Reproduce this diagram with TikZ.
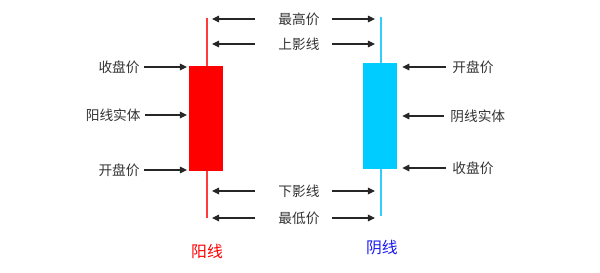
\documentclass[tikz,border=0pt]{standalone}
\usepackage{fontspec}
\newfontfamily\cjk{Noto Sans CJK SC}
\usetikzlibrary{arrows.meta}
\definecolor{yangred}{HTML}{FF0000}
\definecolor{yangwick}{HTML}{FF3B3B}
\definecolor{yinblue}{HTML}{00CCFF}
\definecolor{yinwick}{HTML}{33CCFF}
\definecolor{yintext}{HTML}{1A1AF0}
\definecolor{txtgray}{HTML}{333333}
\tikzset{
  lbl/.style={font=\cjk\fontsize{7.8}{9}\selectfont, text=txtgray, inner sep=0pt},
  title/.style={font=\cjk\fontsize{9}{11}\selectfont, inner sep=0pt},
  pt/.style={-{Triangle[length=4pt,width=3.8pt]}, line width=0.6pt, black!85},
  body/.style={minimum width=0.68cm, minimum height=2.1cm, inner sep=0pt},
}
\begin{document}
\begin{tikzpicture}[x=0.02cm,y=-0.02cm]
  \useasboundingbox (0,0) rectangle (600,273);

  % yang line (red)
  \coordinate (rtop) at (207,18);
  \coordinate (rbot) at (207,218);
  \draw[yangwick, line width=1pt] (rtop) -- (rbot);
  \node[body, fill=yangred] (rbody) at (206,118.5) {};

  % yin line (blue)
  \coordinate (btop) at (381,17);
  \coordinate (bbot) at (381,216);
  \draw[yinwick, line width=1pt] (btop) -- (bbot);
  \node[body, fill=yinblue, minimum height=2.12cm] (bbody) at (380,116) {};

  % left labels
  \node[lbl, anchor=east] (rclose) at (140,67) {收盘价};
  \node[lbl, anchor=east] (rreal) at (141,115) {阳线实体};
  \node[lbl, anchor=east] (ropen) at (140,170) {开盘价};
  \foreach \n in {rclose,rreal,ropen}
    \draw[pt] ([xshift=0.08cm]\n.east) -- ([xshift=-1pt]\n -| rbody.west);

  % middle labels
  \node[lbl] (high) at (299,19) {最高价};
  \node[lbl] (upper) at (299,44) {上影线};
  \node[lbl] (lower) at (299,191) {下影线};
  \node[lbl] (low) at (299,218) {最低价};
  \foreach \n in {high,upper,lower,low} {
    \draw[pt] ([xshift=-0.46cm]\n.west) -- ([xshift=0.1cm]\n -| rtop);
    \draw[pt] ([xshift=0.24cm]\n.east) -- ([xshift=-0.12cm]\n -| btop);
  }

  % right labels
  \node[lbl, anchor=west] (bopen) at (452,67) {开盘价};
  \node[lbl, anchor=west] (breal) at (450,116) {阴线实体};
  \node[lbl, anchor=west] (bclose) at (452,168) {收盘价};
  \foreach \n in {bopen,breal,bclose}
    \draw[pt] ([xshift=-0.12cm]\n.west) -- ([xshift=0.1cm]\n -| bbody.east);

  % titles
  \node[title, text=yangred] (yang) at (207,251) {阳线};
  \node[title, text=yintext] (yin) at (382,248) {阴线};
\end{tikzpicture}
\end{document}
